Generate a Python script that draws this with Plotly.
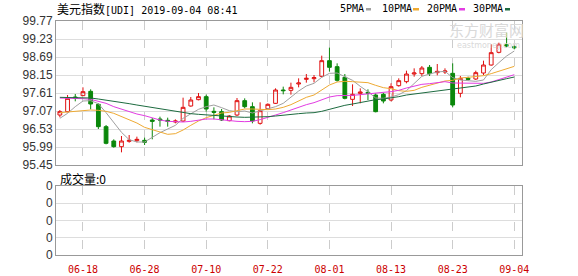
import plotly.graph_objects as go

# ---------------- data ----------------
dates = ["06-13", "06-14", "06-17", "06-18", "06-19", "06-20", "06-21", "06-24", "06-25", "06-26",
         "06-27", "06-28", "07-01", "07-02", "07-03", "07-04", "07-05", "07-08", "07-09", "07-10",
         "07-11", "07-12", "07-15", "07-16", "07-17", "07-18", "07-19", "07-22", "07-23", "07-24",
         "07-25", "07-26", "07-29", "07-30", "07-31", "08-01", "08-02", "08-05", "08-06", "08-07",
         "08-08", "08-09", "08-12", "08-13", "08-14", "08-15", "08-16", "08-19", "08-20", "08-21",
         "08-22", "08-23", "08-26", "08-27", "08-28", "08-29", "08-30", "09-02", "09-03", "09-04"]

opens = [96.95, 97.05, 97.49, 97.53, 97.66, 97.27, 96.60, 96.17, 96.00, 96.16,
         96.18, 96.19, 96.80, 96.83, 96.79, 96.74, 96.77, 97.22, 97.41, 97.50,
         97.06, 97.05, 96.78, 96.95, 97.38, 97.20, 96.70, 97.14, 97.30, 97.70,
         97.69, 97.88, 98.02, 98.04, 98.11, 98.58, 98.40, 98.08, 97.42, 97.60,
         97.63, 97.55, 97.57, 97.40, 97.83, 97.95, 98.18, 98.19, 98.38, 98.22,
         98.24, 98.20, 97.60, 98.05, 98.03, 98.21, 98.45, 98.83, 99.06, 99.00]
highs = [97.10, 97.55, 97.58, 97.78, 97.72, 97.30, 96.65, 96.22, 96.32, 96.35,
         96.30, 96.27, 96.86, 96.90, 96.87, 96.82, 97.47, 97.49, 97.61, 97.56,
         97.18, 97.13, 96.95, 97.46, 97.45, 97.33, 97.33, 97.30, 97.75, 97.80,
         97.92, 98.05, 98.18, 98.15, 98.73, 98.97, 98.50, 98.18, 97.87, 97.75,
         97.72, 97.60, 97.62, 97.90, 98.05, 98.28, 98.35, 98.42, 98.45, 98.48,
         98.35, 98.50, 98.12, 98.10, 98.28, 98.58, 99.07, 99.12, 99.42, 99.03]
lows = [96.88, 97.03, 97.36, 97.52, 97.12, 96.53, 96.07, 95.97, 95.83, 96.12,
        96.13, 96.05, 96.22, 96.60, 96.60, 96.70, 96.74, 97.20, 97.39, 97.05,
        96.82, 96.77, 96.76, 96.92, 97.15, 96.70, 96.66, 97.12, 97.28, 97.57,
        97.56, 97.78, 97.92, 97.93, 98.08, 98.25, 97.95, 97.42, 97.22, 97.30,
        97.40, 97.03, 97.30, 97.36, 97.80, 97.90, 98.10, 98.12, 98.12, 98.14,
        98.18, 97.18, 97.48, 97.98, 98.00, 98.15, 98.43, 98.80, 98.98, 98.92]
closes = [97.05, 97.45, 97.46, 97.65, 97.28, 96.60, 96.10, 96.00, 96.17, 96.19,
          96.22, 96.13, 96.76, 96.80, 96.76, 96.77, 97.18, 97.40, 97.50, 97.13,
          97.03, 96.80, 96.92, 97.38, 97.20, 96.77, 97.08, 97.27, 97.70, 97.68,
          97.78, 97.91, 98.05, 98.07, 98.58, 98.38, 97.99, 97.45, 97.57, 97.64,
          97.60, 97.05, 97.37, 97.80, 97.98, 98.18, 98.21, 98.36, 98.19, 98.26,
          98.27, 97.25, 98.05, 98.02, 98.22, 98.45, 98.82, 99.07, 99.02, 98.97]

ma5 = [96.85, 97.00, 97.20, 97.37, 97.38, 97.29, 97.02, 96.73, 96.43, 96.21,
       96.14, 96.14, 96.29, 96.42, 96.53, 96.64, 96.85, 96.98, 97.12, 97.20,
       97.25, 97.17, 97.08, 97.05, 97.07, 97.01, 97.07, 97.14, 97.20, 97.30,
       97.50, 97.67, 97.82, 97.90, 98.08, 98.20, 98.21, 98.09, 97.99, 97.81,
       97.65, 97.46, 97.45, 97.49, 97.56, 97.68, 97.91, 98.11, 98.18, 98.24,
       98.26, 98.07, 98.00, 97.97, 97.96, 98.00, 98.31, 98.52, 98.72, 98.87]
ma10 = [97.02, 97.04, 97.07, 97.09, 97.10, 97.09, 97.06, 97.00, 96.91, 96.80,
        96.71, 96.58, 96.51, 96.43, 96.37, 96.39, 96.50, 96.64, 96.77, 96.87,
        96.95, 97.01, 97.03, 97.09, 97.13, 97.13, 97.12, 97.11, 97.13, 97.18,
        97.26, 97.37, 97.48, 97.55, 97.69, 97.85, 97.94, 97.96, 97.95, 97.94,
        97.92, 97.84, 97.77, 97.74, 97.68, 97.66, 97.69, 97.78, 97.84, 97.90,
        97.97, 97.99, 98.06, 98.08, 98.10, 98.13, 98.19, 98.26, 98.34, 98.41]
ma20 = [97.46, 97.46, 97.45, 97.44, 97.42, 97.37, 97.30, 97.20, 97.12, 97.04,
        96.98, 96.93, 96.86, 96.80, 96.76, 96.74, 96.74, 96.76, 96.79, 96.83,
        96.83, 96.80, 96.77, 96.76, 96.75, 96.76, 96.81, 96.87, 96.95, 97.02,
        97.10, 97.19, 97.26, 97.32, 97.41, 97.49, 97.53, 97.53, 97.54, 97.56,
        97.59, 97.60, 97.63, 97.65, 97.69, 97.76, 97.81, 97.87, 97.89, 97.92,
        97.95, 97.91, 97.91, 97.91, 97.89, 97.90, 97.94, 98.02, 98.09, 98.16]
ma30 = [97.48, 97.48, 97.48, 97.47, 97.46, 97.43, 97.40, 97.36, 97.33, 97.29,
        97.25, 97.21, 97.17, 97.13, 97.09, 97.05, 97.02, 96.99, 96.97, 96.95,
        96.94, 96.92, 96.90, 96.89, 96.88, 96.88, 96.89, 96.90, 96.92, 96.95,
        96.97, 96.99, 97.01, 97.02, 97.06, 97.12, 97.19, 97.24, 97.28, 97.33,
        97.38, 97.41, 97.43, 97.46, 97.50, 97.55, 97.58, 97.61, 97.64, 97.68,
        97.72, 97.73, 97.77, 97.79, 97.82, 97.88, 97.94, 98.00, 98.04, 98.09]
volume = [0] * 60

price_ticks = [99.77, 99.23, 98.69, 98.15, 97.61, 97.07, 96.53, 95.99, 95.45]
volume_ticks = [0, 1, 2, 3, 4]
volume_tick_labels = ["0", "0", "0", "0", "0"]
date_tick_labels = ["06-18", "06-28", "07-10", "07-22", "08-01", "08-13", "08-23", "09-04"]

title_text = "美元指数"
title_rest = "[UDI] 2019-09-04 08:41"
ma_names = ["5PMA", "10PMA", "20PMA", "30PMA"]
volume_label = "成交量:0"

# ---------------- styles ----------------
RED = "#e01010"
GREEN = "#0a870a"
MA_COLORS = ["#a0a0a0", "#eeaa33", "#e23ce2", "#1d6b40"]
W, H = 578, 276
L, R, T, B = 56, 56, 21, 21
PW, PH = W - L - R, H - T - B


def px(x):
    return (x - L) / PW


def py(y):
    return (H - B - y) / PH


x = list(range(len(dates)))
tickvals = [dates.index(d) for d in date_tick_labels]

fig = go.Figure()
fig.add_trace(go.Scatter(x=x, y=volume, xaxis="x2", yaxis="y2", mode="lines",
                         line=dict(color="rgba(0,0,0,0)", width=0), showlegend=False,
                         hoverinfo="skip"))
fig.add_trace(go.Candlestick(
    x=x, open=opens, high=highs, low=lows, close=closes,
    increasing=dict(line=dict(color=RED, width=1), fillcolor="rgba(255,255,255,0)"),
    decreasing=dict(line=dict(color=GREEN, width=1), fillcolor=GREEN),
    whiskerwidth=0, showlegend=False, xaxis="x", yaxis="y"))
for name, vals, col in zip(ma_names, [ma5, ma10, ma20, ma30], MA_COLORS):
    fig.add_trace(go.Scatter(x=x, y=vals, mode="lines", name=name,
                             line=dict(color=col, width=1), showlegend=False,
                             xaxis="x", yaxis="y"))

axis_common = dict(showline=True, mirror=True, linecolor="#999999", linewidth=1,
                   zeroline=False, ticks="", automargin=False)
xgrid = dict(type="linear", autorange=False, range=[-0.5, 60.0], tickmode="array",
             tickvals=tickvals, showgrid=True, gridcolor="#cccccc", griddash="dash",
             gridwidth=1)
fig.update_layout(
    width=W, height=H, margin=dict(l=L, r=R, t=T, b=B, autoexpand=False),
    paper_bgcolor="white", plot_bgcolor="white",
    xaxis=dict(domain=[0, 1], anchor="y", showticklabels=False,
               rangeslider=dict(visible=False), **xgrid, **axis_common),
    xaxis2=dict(domain=[0, 1], anchor="y2", ticktext=date_tick_labels,
                ticklabelstandoff=5,
                tickfont=dict(family="DejaVu Sans Mono", size=10, color="#cc0000"),
                **xgrid, **axis_common),
    yaxis=dict(domain=[py(165), 1], anchor="x", type="linear", autorange=False,
               range=[95.45, 99.77], tickmode="array",
               tickvals=price_ticks, ticktext=["%.2f" % v for v in price_ticks],
               showgrid=True, gridcolor="#dddddd", gridwidth=1,
               tickfont=dict(family="Liberation Sans, Arial", size=12, color="#333333"),
               **axis_common),
    yaxis2=dict(domain=[0, py(186)], anchor="x2", type="linear", autorange=False,
                range=[-0.0001, 4.0001], tickmode="array",
                tickvals=volume_ticks, ticktext=volume_tick_labels,
                showgrid=True, gridcolor="#dddddd", gridwidth=1, showticklabels=True,
                tickfont=dict(family="Liberation Sans, Arial", size=12, color="#333333"),
                **axis_common),
    showlegend=False,
)

ann = []
ann.append(dict(xref="paper", yref="paper", x=px(55), y=py(9), xanchor="left", yanchor="middle",
                text='<span style="font-family:\'Noto Sans CJK SC\';font-size:12px">' + title_text +
                     '</span>' + title_rest,
                showarrow=False, font=dict(family="DejaVu Sans Mono", size=10, color="#000000")))
legend_x = [338, 380, 425, 471]
dash_x = [(366, 371), (413, 419), (459, 465), (505, 510)]
shapes = []
for name, lx, (d0, d1), col in zip(ma_names, legend_x, dash_x, MA_COLORS):
    ann.append(dict(xref="paper", yref="paper", x=px(lx), y=py(9), xanchor="left",
                    yanchor="middle", text=name, showarrow=False,
                    font=dict(family="DejaVu Sans Mono", size=10, color="#000000")))
    shapes.append(dict(type="rect", xref="paper", yref="paper", x0=px(d0), x1=px(d1),
                       y0=py(10.5), y1=py(8), fillcolor=col, line=dict(width=0)))
# watermark
ann.append(dict(xref="paper", yref="paper", x=px(486), y=py(30), xanchor="center",
                yanchor="middle", text="东方财富网", showarrow=False,
                font=dict(family="Noto Sans CJK SC", size=15, color="#d9d9d9")))
ann.append(dict(xref="paper", yref="paper", x=px(488), y=py(46), xanchor="center",
                yanchor="middle", text="eastmoney.com", showarrow=False,
                font=dict(family="DejaVu Sans", size=8, color="#d9d9d9")))
ann.append(dict(xref="paper", yref="paper", x=px(58), y=py(178), xanchor="left",
                yanchor="middle", text=volume_label, showarrow=False,
                font=dict(family="Noto Sans CJK SC", size=12, color="#000000")))
fig.update_layout(annotations=ann, shapes=shapes)

fig.write_html("out.html")
